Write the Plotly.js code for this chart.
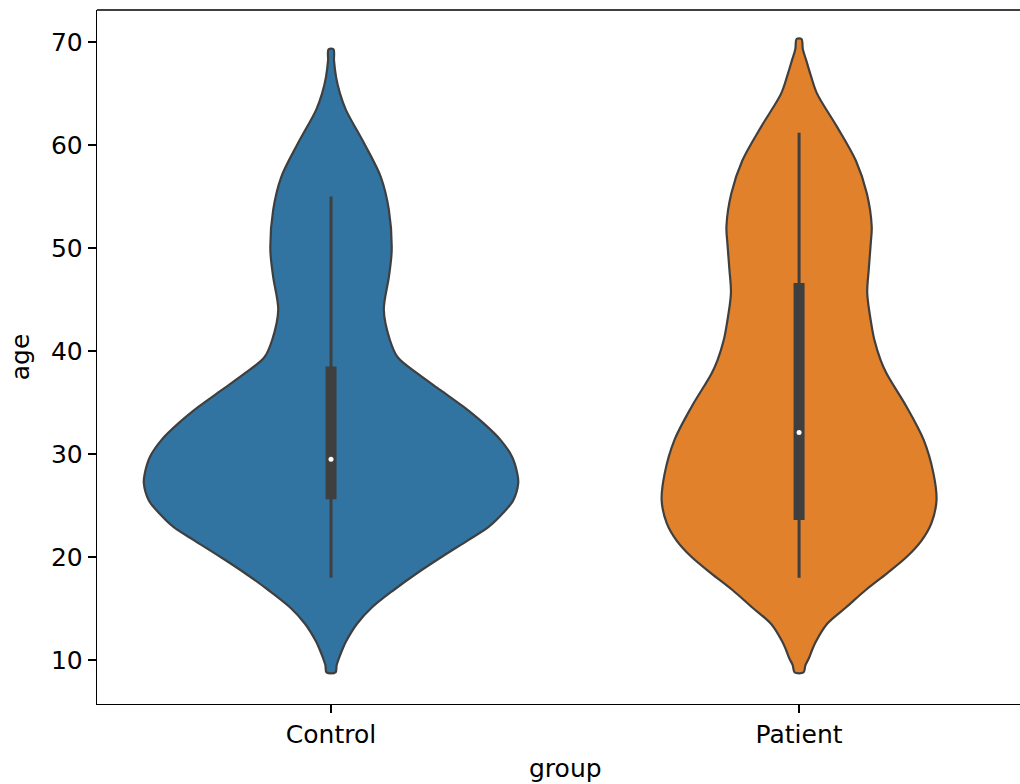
<!DOCTYPE html>
<html>
<head>
<meta charset="utf-8">
<script src="https://cdn.plot.ly/plotly-3.0.1.min.js"></script>
<style>html,body{margin:0;padding:0;background:#fff;}</style>
</head>
<body>
<div id="chart" style="width:1020px;height:784px;"></div>
<script>
// Categories
var categories = ["Control", "Patient"];

// Violin outlines: age grid and relative density (Control peak = 1)
var controlAges = [69.3, 68.2, 66.6, 65.0, 63.4, 60.2, 56.9, 53.7, 49.8, 47.2, 44.0, 41.1, 39.4, 37.8, 36.2, 34.6, 33.0, 31.4, 29.7, 28.1, 27.2, 25.5, 24.3, 22.9, 21.6, 20.0, 18.4, 16.8, 15.1, 13.5, 11.8, 11.0, 10.2, 9.5, 8.8];
var controlDensity = [0.013, 0.016, 0.027, 0.048, 0.080, 0.176, 0.266, 0.309, 0.324, 0.309, 0.282, 0.314, 0.356, 0.463, 0.585, 0.707, 0.814, 0.904, 0.968, 0.995, 1.000, 0.973, 0.920, 0.840, 0.729, 0.590, 0.457, 0.335, 0.218, 0.138, 0.080, 0.060, 0.043, 0.030, 0.024];

var patientAges = [70.3, 69.3, 68.3, 66.8, 65.0, 61.8, 58.5, 55.3, 52.1, 50.5, 47.9, 45.6, 42.4, 41.1, 39.1, 37.8, 34.6, 31.4, 28.1, 25.5, 23.3, 21.6, 20.0, 18.4, 16.8, 15.1, 13.5, 11.8, 11.0, 10.2, 9.5, 8.8];
var patientDensity = [0.013, 0.020, 0.037, 0.062, 0.096, 0.202, 0.303, 0.362, 0.388, 0.383, 0.372, 0.364, 0.388, 0.402, 0.436, 0.468, 0.574, 0.665, 0.718, 0.734, 0.707, 0.654, 0.574, 0.468, 0.356, 0.250, 0.149, 0.090, 0.070, 0.053, 0.034, 0.024];

// Inner box statistics
var whiskerLow  = [18.0, 18.0];
var quartile1   = [25.6, 23.6];
var medians     = [29.5, 32.1];
var quartile3   = [38.5, 46.6];
var whiskerHigh = [55.0, 61.2];

var yTicks = [10, 20, 30, 40, 50, 60, 70];

var fills = ["#3274a1", "#e1812c"];
var edge = "#3f3f3f";
var halfWidth = 0.4;

function violinTrace(center, ages, dens, color) {
  var xs = [], ys = [];
  for (var i = 0; i < ages.length; i++) { xs.push(center + halfWidth * dens[i]); ys.push(ages[i]); }
  for (var j = ages.length - 1; j >= 0; j--) { xs.push(center - halfWidth * dens[j]); ys.push(ages[j]); }
  xs.push(xs[0]); ys.push(ys[0]);
  return {
    type: "scatter", mode: "lines", x: xs, y: ys,
    fill: "toself", fillcolor: color,
    line: {color: edge, width: 2.2, shape: "spline", smoothing: 0.9},
    hoverinfo: "skip", showlegend: false
  };
}

var traces = [
  violinTrace(0, controlAges, controlDensity, fills[0]),
  violinTrace(1, patientAges, patientDensity, fills[1])
];

for (var k = 0; k < categories.length; k++) {
  traces.push({
    type: "scatter", mode: "lines", x: [k, k], y: [whiskerLow[k], whiskerHigh[k]],
    line: {color: edge, width: 3}, hoverinfo: "skip", showlegend: false
  });
  traces.push({
    type: "scatter", mode: "lines", x: [k, k], y: [quartile1[k], quartile3[k]],
    line: {color: edge, width: 11}, hoverinfo: "skip", showlegend: false
  });
}
traces.push({
  type: "scatter", mode: "markers", x: [0, 1], y: medians,
  marker: {color: "#ffffff", size: 5, line: {width: 0}},
  hoverinfo: "skip", showlegend: false
});

var font = {family: "DejaVu Sans, sans-serif", size: 25, color: "#000000"};

var layout = {
  width: 1020, height: 784,
  margin: {l: 97, r: 0, t: 10, b: 80},
  paper_bgcolor: "#ffffff", plot_bgcolor: "#ffffff",
  font: font,
  showlegend: false,
  xaxis: {
    range: [-0.5, 1.472],
    tickmode: "array", tickvals: [0, 1], ticktext: categories,
    showgrid: false, zeroline: false,
    showline: true, linecolor: "#000000", linewidth: 1.3,
    ticks: "outside", ticklen: 8, tickwidth: 1.3, tickcolor: "#000000",
    tickfont: font
  },
  yaxis: {
    range: [5.73, 73.12],
    tickmode: "array", tickvals: yTicks,
    showgrid: false, zeroline: false,
    showline: true, linecolor: "#000000", linewidth: 1.3,
    ticks: "outside", ticklen: 8, tickwidth: 1.3, tickcolor: "#000000",
    tickfont: font,
    title: {text: "age", font: font, standoff: 14}
  },
  shapes: [{
    type: "line", xref: "paper", yref: "paper", x0: 0, x1: 1, y0: 1, y1: 1,
    line: {color: "#000000", width: 1.3}
  }],
  annotations: [{
    text: "group", xref: "x", yref: "paper", x: 0.5, y: 0,
    xanchor: "center", yanchor: "top", yshift: -48, showarrow: false,
    font: font
  }]
};

Plotly.newPlot("chart", traces, layout, {displayModeBar: false, staticPlot: true});
</script>
</body>
</html>
